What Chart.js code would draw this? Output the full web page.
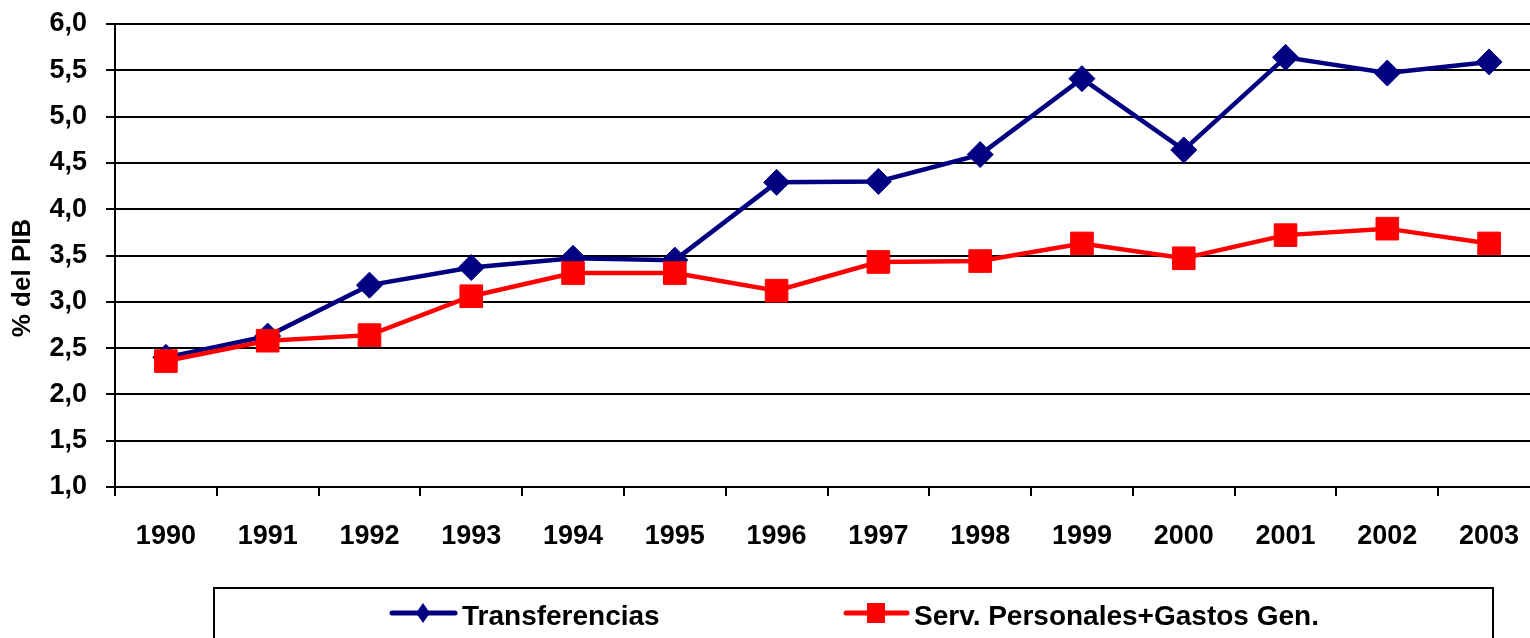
<!DOCTYPE html>
<html>
<head>
<meta charset="utf-8">
<script src="https://cdn.jsdelivr.net/npm/chart.js@4/dist/chart.umd.min.js"></script>
<style>
  html, body { margin: 0; padding: 0; background: #fff; overflow: hidden; }
  #wrap { width: 1557px; height: 665px; }
</style>
</head>
<body>
<div id="wrap"><canvas id="gasto" width="1557" height="665"></canvas></div>
<script>
var years = ["1990","1991","1992","1993","1994","1995","1996","1997","1998","1999","2000","2001","2002","2003"];
var transferencias = [2.40, 2.63, 3.18, 3.37, 3.47, 3.45, 4.29, 4.30, 4.59, 5.41, 4.64, 5.64, 5.47, 5.59];
var servPersonales = [2.36, 2.58, 2.64, 3.06, 3.31, 3.31, 3.12, 3.43, 3.44, 3.63, 3.47, 3.72, 3.79, 3.63];
var yTicks = [1.0, 1.5, 2.0, 2.5, 3.0, 3.5, 4.0, 4.5, 5.0, 5.5, 6.0];

var FONT = "'Liberation Sans', Arial, sans-serif";
var NAVY = "#000080";
var RED = "#FF0000";

// draws the y title and the boxed legend at the bottom
var extras = {
  id: 'extras',
  afterDraw: function(chart) {
    var ctx = chart.ctx;
    ctx.save();
    // axis title
    ctx.translate(23, 278);
    ctx.rotate(-Math.PI / 2);
    ctx.font = "bold 26px " + FONT;
    ctx.fillStyle = "#000";
    ctx.textAlign = "center";
    ctx.textBaseline = "middle";
    ctx.fillText("% del PIB", 0, 0);
    ctx.restore();

    // legend box
    ctx.save();
    ctx.lineWidth = 2;
    ctx.strokeStyle = "#000";
    ctx.strokeRect(214, 588, 1279, 120);

    var items = [
      {x1: 392, x2: 455, mx: 423, tx: 462, ds: chart.data.datasets[0]},
      {x1: 846, x2: 907, mx: 876, tx: 914, ds: chart.data.datasets[1]}
    ];
    var y = 613;
    items.forEach(function(it) {
      var c = it.ds.borderColor;
      ctx.strokeStyle = c;
      ctx.lineWidth = 5;
      ctx.lineCap = "round";
      ctx.beginPath();
      ctx.moveTo(it.x1, y);
      ctx.lineTo(it.x2, y);
      ctx.stroke();
      ctx.fillStyle = c;
      ctx.beginPath();
      if (it.ds.pointStyle === 'rectRot') {
        ctx.moveTo(it.mx, y - 10);
        ctx.lineTo(it.mx + 7, y);
        ctx.lineTo(it.mx, y + 10);
        ctx.lineTo(it.mx - 7, y);
        ctx.closePath();
      } else {
        ctx.rect(it.mx - 9, y - 10, 18, 20);
      }
      ctx.fill();
      ctx.fillStyle = "#000";
      ctx.font = "bold 28px " + FONT;
      ctx.textAlign = "left";
      ctx.textBaseline = "middle";
      ctx.fillText(it.ds.label, it.tx, y + 4);
    });
    ctx.restore();
  }
};

var ctx = document.getElementById("gasto");
var chart = new Chart(ctx, {
  type: 'line',
  data: {
    labels: years,
    datasets: [
      {
        label: "Transferencias",
        data: transferencias,
        borderColor: NAVY,
        backgroundColor: NAVY,
        pointBackgroundColor: NAVY,
        pointBorderColor: NAVY,
        pointStyle: 'rectRot',
        pointRadius: 13,
        pointBorderWidth: 1,
        borderWidth: 4.5,
        tension: 0,
        order: 1
      },
      {
        label: "Serv. Personales+Gastos Gen.",
        data: servPersonales,
        borderColor: RED,
        backgroundColor: RED,
        pointBackgroundColor: RED,
        pointBorderColor: RED,
        pointStyle: 'rect',
        pointRadius: 16,
        pointBorderWidth: 1,
        borderWidth: 4.5,
        tension: 0,
        order: 0
      }
    ]
  },
  options: {
    responsive: false,
    animation: false,
    layout: { padding: { top: 24, left: 0, right: 6, bottom: 118 } },
    plugins: {
      legend: { display: false },
      tooltip: { enabled: false },
      title: { display: false }
    },
    scales: {
      x: {
        offset: true,
        afterFit: function(s) { s.height = 60; },
        grid: {
          offset: true,
          drawOnChartArea: false,
          drawTicks: true,
          tickLength: 9,
          color: "#000",
          lineWidth: 2
        },
        border: { display: true, color: "#000", width: 2 },
        ticks: {
          color: "#000",
          padding: 24,
          maxRotation: 0,
          autoSkip: false,
          font: { family: FONT, size: 27, weight: 'bold' }
        }
      },
      y: {
        min: 1,
        max: 6,
        afterFit: function(s) {
          s.width = 115;
          s.paddingTop = 0;
          s.paddingBottom = 0;
        },
        afterBuildTicks: function(s) {
          s.ticks = yTicks.map(function(v) { return { value: v }; });
        },
        grid: {
          color: "#000",
          lineWidth: 2,
          tickLength: 9,
          drawTicks: true
        },
        border: { display: true, color: "#000", width: 2 },
        ticks: {
          color: "#000",
          padding: 19,
          font: { family: FONT, size: 27, weight: 'bold' },
          callback: function(v) { return Number(v).toFixed(1).replace('.', ','); }
        }
      }
    }
  },
  plugins: [extras]
});
</script>
</body>
</html>
